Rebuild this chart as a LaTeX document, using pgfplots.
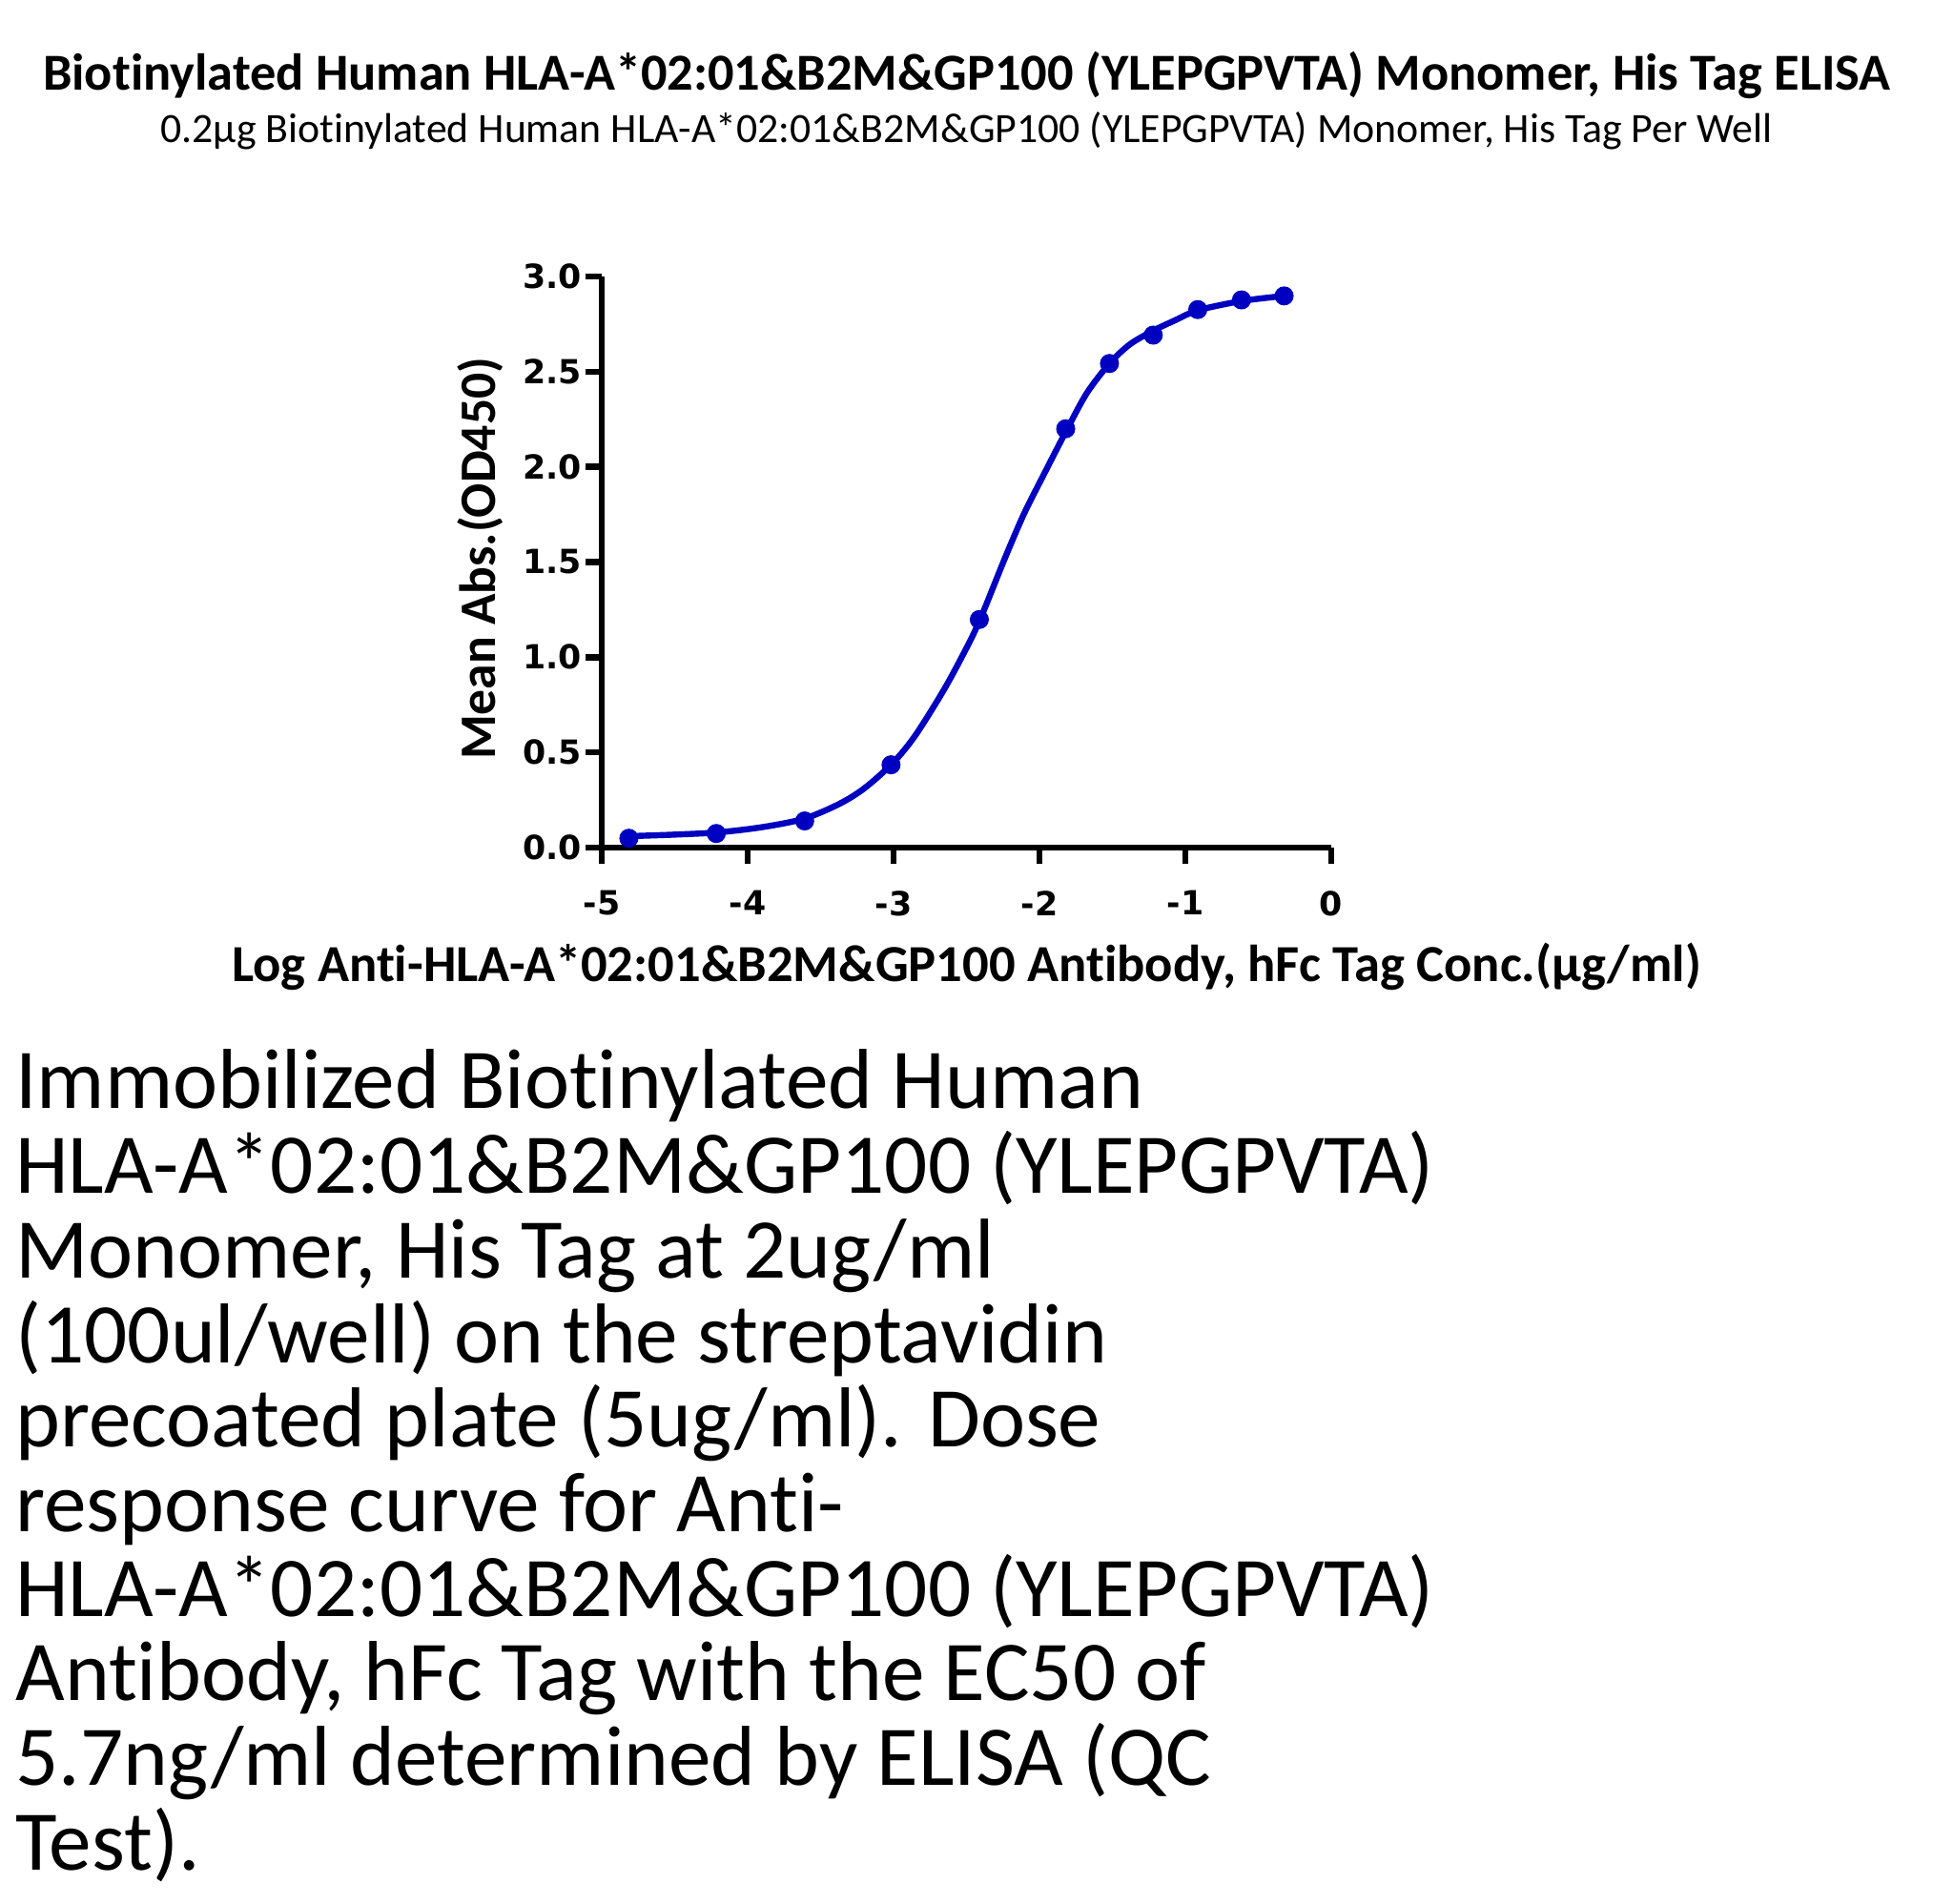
\documentclass[border=0pt]{standalone}
\usepackage{fontspec}
\setmainfont{Carlito}[Ligatures=NoCommon]
\newfontfamily\tickfont{DejaVu Sans}
\usepackage{pgfplots}
\pgfplotsset{compat=1.18}
\definecolor{curveblue}{RGB}{0,0,192}
\begin{document}
\begin{tikzpicture}
\path[use as bounding box] (0pt,0pt) rectangle (506.75pt,-499.25pt);
\node[anchor=base, font=\bfseries\fontsize{13.6}{16}\selectfont, inner sep=0pt] at (253.4pt,-23.6pt)
  {Biotinylated Human HLA-A*02:01\&B2M\&GP100 (YLEPGPVTA) Monomer, His Tag ELISA};
\node[anchor=base, font=\fontsize{10.95}{13}\selectfont, inner sep=0pt] at (253.4pt,-37.4pt)
  {0.2µg Biotinylated Human HLA-A*02:01\&B2M\&GP100 (YLEPGPVTA) Monomer, His Tag Per Well};
\begin{axis}[
  at={(157.75pt,-222.25pt)}, anchor=south west,
  width=191.25pt, height=149.75pt, scale only axis,
  xmin=-5, xmax=0, ymin=0, ymax=3,
  axis lines=left,
  axis line style={line width=1.6pt, -},
  clip=false,
  xtick={-5,-4,-3,-2,-1,0},
  xticklabels={-5,-4,-3,-2,-1,0},
  ytick={0,0.5,1,1.5,2,2.5,3},
  yticklabels={0.0,0.5,1.0,1.5,2.0,2.5,3.0},
  tick align=outside,
  major tick length=4.3pt,
  tick style={line width=1.6pt, black},
  ticklabel style={font=\tickfont\bfseries\fontsize{8.7}{9}\selectfont},
  xticklabel style={yshift=-3.5pt},
  yticklabel style={xshift=2.6pt},
  xlabel={Log Anti-HLA-A*02:01\&B2M\&GP100 Antibody, hFc Tag Conc.(µg/ml)},
  ylabel={Mean Abs.(OD450)},
  xlabel style={at={(axis description cs:0.5,-0.2354)}, anchor=base, font=\bfseries\fontsize{13.65}{15}\selectfont, inner sep=0pt},
  ylabel style={at={(axis description cs:-0.166,0.506)}, anchor=center, font=\bfseries\fontsize{13.4}{15}\selectfont, inner sep=0pt},
]
\addplot[curveblue, line width=1.6pt, smooth, tension=0.5] coordinates {
(-4.810,0.060) (-4.505,0.068) (-4.201,0.080) (-3.895,0.108) (-3.612,0.152)
(-3.373,0.229) (-3.199,0.312) (-3.003,0.446) (-2.850,0.590) (-2.654,0.830)
(-2.501,1.047) (-2.403,1.205) (-2.240,1.514) (-2.109,1.748) (-1.978,1.948)
(-1.804,2.207) (-1.673,2.390) (-1.520,2.543) (-1.381,2.643) (-1.221,2.715)
(-1.081,2.766) (-0.915,2.822) (-0.615,2.871) (-0.323,2.898)
};
\addplot[only marks, mark=*, mark size=2.3pt, curveblue, mark options={fill=curveblue, draw=curveblue}] coordinates {
(-4.814,0.049) (-4.215,0.074) (-3.609,0.140) (-3.017,0.435) (-2.412,1.198)
(-1.820,2.200) (-1.520,2.543) (-1.220,2.692) (-0.915,2.826) (-0.615,2.877) (-0.323,2.898)
};
\end{axis}
\begin{scope}[every node/.style={anchor=base west, inner sep=0pt, font=\fontsize{22.3}{22}\selectfont}]
\node at (3.9pt,-290.75pt) {Immobilized Biotinylated Human};
\node at (3.9pt,-312.93pt) {HLA-A*02:01\&B2M\&GP100 (YLEPGPVTA)};
\node at (3.9pt,-335.10pt) {Monomer, His Tag at 2ug/ml};
\node at (3.9pt,-357.28pt) {(100ul/well) on the streptavidin};
\node at (3.9pt,-379.45pt) {precoated plate (5ug/ml). Dose};
\node at (3.9pt,-401.63pt) {response curve for Anti-};
\node at (3.9pt,-423.80pt) {HLA-A*02:01\&B2M\&GP100 (YLEPGPVTA)};
\node at (3.9pt,-445.98pt) {Antibody, hFc Tag with the EC50 of};
\node at (3.9pt,-468.15pt) {5.7ng/ml determined by ELISA (QC};
\node at (3.9pt,-490.33pt) {Test).};
\end{scope}
\end{tikzpicture}
\end{document}
